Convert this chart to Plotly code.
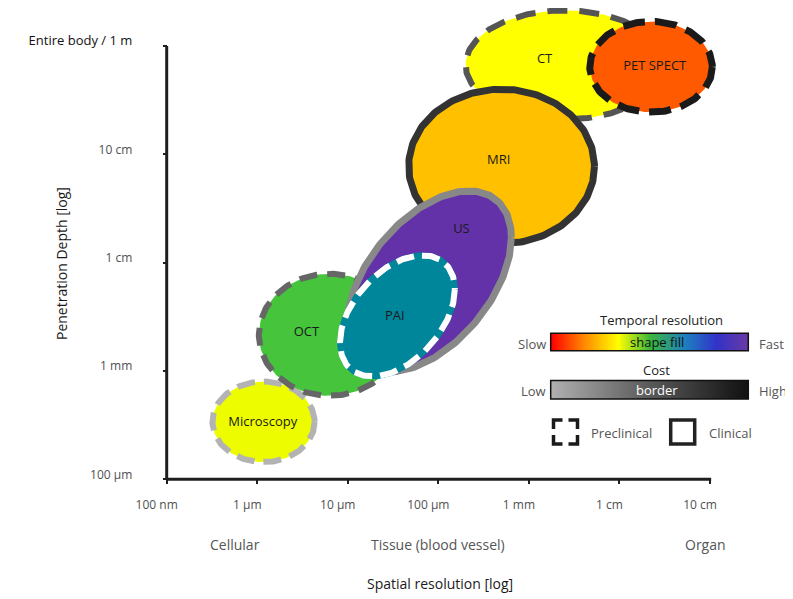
import math
import numpy as np
import plotly.graph_objects as go

# ---------------- data ----------------
x_tick_vals = [1e-7, 1e-6, 1e-5, 1e-4, 1e-3, 1e-2, 1e-1]
x_tick_text = ["100 nm", "1 µm", "10 µm", "100 µm", "1 mm", "1 cm", "10 cm"]
y_tick_vals = [1e-4, 1e-3, 1e-2, 1e-1, 1.0]
y_tick_text = ["100 µm", "1 mm", "1 cm", "10 cm", "Entire body / 1 m"]

scale_names = ["Cellular", "Tissue (blood vessel)", "Organ"]
scale_x = [5.75e-7, 9.8e-5, 8.9e-2]

modalities = ["CT", "PET SPECT", "MRI", "Microscopy", "OCT", "US", "PAI"]
res_min = [2.0e-4, 4.7e-3, 4.7e-5, 3.2e-7, 1.04e-6, 9.8e-6, 8.2e-6]      # spatial resolution range [m]
res_max = [3.1e-2, 1.06e-1, 5.3e-3, 4.3e-6, 3.8e-5, 6.4e-4, 1.52e-4]
depth_min = [0.21, 0.245, 0.015, 1.44e-4, 5.9e-4, 9.8e-4, 8.9e-4]       # penetration depth range [m]
depth_max = [2.14, 1.69, 0.40, 8.0e-4, 7.9e-3, 0.046, 0.0117]
tilt_deg = [90, 90, 90, 90, 90, 61, 64]                                  # 90 = no correlation
label_x = [1.49e-3, 0.0245, 4.65e-4, 1.15e-6, 3.49e-6, 1.80e-4, 3.3e-5]
label_y = [0.748, 0.641, 0.0869, 3.31e-4, 2.26e-3, 0.0202, 3.15e-3]
clinical = [False, False, True, False, False, True, False]

# ---------------- styles ----------------
fill_col = {"CT": "#ffff00", "PET SPECT": "#ff5a00", "MRI": "#ffc000", "Microscopy": "#eefc00",
            "OCT": "#45c43c", "US": "#6331a8", "PAI": "#00869a"}
border_col = {"CT": "#555555", "PET SPECT": "#1a1a1a", "MRI": "#333333", "Microscopy": "#b3b3b3",
              "OCT": "#666666", "US": "#888888", "PAI": "#ffffff"}
border_w = {"CT": 6, "PET SPECT": 7, "MRI": 7, "Microscopy": 6, "OCT": 6, "US": 7, "PAI": 6}
dash_pat = {"CT": "20px,12px", "PET SPECT": "22px,10px", "Microscopy": "18px,9px",
            "OCT": "18px,10px", "PAI": "18px,8px"}

FONT = "Open Sans"
OFF = 8                       # page body margin offset of the figure
W, H = 793 - OFF, 599 - OFF
PL, PT, PR, PB = 157, 8, 793, 489   # plot area in page pixels
X0PX, XDEC = 166.7, 90.55   # page pixel of 100 nm, pixels per decade
Y0PX, YDEC = 479.3, 108.3   # page pixel of 100 µm, pixels per decade


def px(xp):
    return (xp - PL) / (PR - PL)


def py(yp):
    return (PB - yp) / (PB - PT)


fig = go.Figure()

t = np.linspace(0, 2 * np.pi, 241)
for i, name in enumerate(modalities):
    lx0, lx1 = math.log10(res_min[i]), math.log10(res_max[i])
    ly0, ly1 = math.log10(depth_min[i]), math.log10(depth_max[i])
    cx, cy = (lx0 + lx1) / 2, (ly0 + ly1) / 2
    a, b = (lx1 - lx0) / 2, (ly1 - ly0) / 2
    d = math.radians(tilt_deg[i])
    ex = 10 ** (cx + a * np.cos(t))
    ey = 10 ** (cy + b * np.cos(t + d))
    if clinical[i]:
        fig.add_trace(go.Scatter(x=ex, y=ey, mode="lines", fill="toself", fillcolor=fill_col[name],
                                 line=dict(color=border_col[name], width=border_w[name]),
                                 hoverinfo="skip", showlegend=False))
    else:
        under = fill_col[name] if name == "PAI" else "rgba(0,0,0,0)"
        fig.add_trace(go.Scatter(x=ex, y=ey, mode="lines", fill="toself", fillcolor=fill_col[name],
                                 line=dict(color=under, width=border_w[name]),
                                 hoverinfo="skip", showlegend=False))
        fig.add_trace(go.Scatter(x=ex, y=ey, mode="lines",
                                 line=dict(color=border_col[name], width=border_w[name], dash=dash_pat[name]),
                                 hoverinfo="skip", showlegend=False))

fig.add_trace(go.Scatter(x=label_x, y=label_y, mode="text", text=modalities,
                         textfont=dict(family=FONT, size=13, color="#1a1a1a"),
                         hoverinfo="skip", showlegend=False, cliponaxis=False))

# axis lines (spanning the tick range only)
fig.add_trace(go.Scatter(x=[x_tick_vals[0], x_tick_vals[-1] * 1.03], y=[y_tick_vals[0]] * 2, mode="lines",
                         line=dict(color="#1e1e1e", width=3), hoverinfo="skip", showlegend=False))
fig.add_trace(go.Scatter(x=[x_tick_vals[0]] * 2, y=[y_tick_vals[0], y_tick_vals[-1]], mode="lines",
                         line=dict(color="#1e1e1e", width=3), hoverinfo="skip", showlegend=False))

# legend gradient bars
grad = [list(np.linspace(0, 1, 300))]
temporal_scale = [[0, "#ff0000"], [0.17, "#ff8c00"], [0.34, "#ffff00"], [0.5, "#3cb83c"],
                  [0.68, "#1e7fc0"], [0.84, "#3232c8"], [1, "#6b3aa5"]]
cost_scale = [[0, "#b0b0b0"], [0.5, "#5a5a5a"], [1, "#111111"]]
fig.add_trace(go.Heatmap(z=grad, colorscale=temporal_scale, showscale=False, xaxis="x2", yaxis="y2",
                         hoverinfo="skip", zsmooth="best"))
fig.add_trace(go.Heatmap(z=grad, colorscale=cost_scale, showscale=False, xaxis="x3", yaxis="y3",
                         hoverinfo="skip", zsmooth="best"))

bx0, bx1 = 550.7, 748.3
bar1 = (333.3, 350.7)
bar2 = (380.5, 399.0)
hidden = dict(visible=False, fixedrange=True)
fig.update_layout(
    xaxis2=dict(domain=[px(bx0), px(bx1)], anchor="y2", **hidden),
    yaxis2=dict(domain=[py(bar1[1]), py(bar1[0])], anchor="x2", **hidden),
    xaxis3=dict(domain=[px(bx0), px(bx1)], anchor="y3", **hidden),
    yaxis3=dict(domain=[py(bar2[1]), py(bar2[0])], anchor="x3", **hidden),
)

shapes = []
for (y0, y1) in (bar1, bar2):
    shapes.append(dict(type="rect", xref="paper", yref="paper", x0=px(bx0), x1=px(bx1),
                       y0=py(y1), y1=py(y0), line=dict(color="#111111", width=1.5)))

# preclinical (dashed) and clinical (solid) squares
sx0, sx1, sy0, sy1 = 553.5, 577.5, 420.0, 444.0
ym = (sy0 + sy1) / 2
pts = [(sx0, ym - 3), (sx0, sy0), (sx1, sy0), (sx1, sy1), (sx0, sy1), (sx0, ym - 3)]
path = "M " + " L ".join(f"{px(a):.5f},{py(b):.5f}" for a, b in pts)
shapes.append(dict(type="path", xref="paper", yref="paper", path=path,
                   line=dict(color="#1a1a1a", width=3.5, dash="18px,6px")))
shapes.append(dict(type="rect", xref="paper", yref="paper", x0=px(670.7), x1=px(694.7),
                   y0=py(444.0), y1=py(420.0), line=dict(color="#222222", width=3.5)))

ann = []


def text(s, xp, yp, xanchor="center", size=13, color="#555555", angle=0):
    ann.append(dict(text=s, xref="paper", yref="paper", x=px(xp), y=py(yp), xanchor=xanchor,
                    yanchor="middle", showarrow=False, textangle=angle,
                    font=dict(family=FONT, size=size, color=color)))


text("Temporal resolution", 661.5, 320, color="#222222")
text("Slow", 547.5, 343.5, xanchor="right")
text("Fast", 757, 343.5, xanchor="left")
text("shape fill", 656.5, 342, color="#111111")
text("Cost", 656.5, 369.5, color="#222222")
text("border", 656.5, 389.5, color="#ffffff")
text("Low", 547.5, 390.5, xanchor="right")
text("High", 757, 390.5, xanchor="left")
text("Preclinical", 589, 433, xanchor="left")
text("Clinical", 707, 433, xanchor="left")
text("Penetration Depth [log]", 61, 264, size=14, color="#1a1a1a", angle=-90)
text("Spatial resolution [log]", 440, 583, size=14, color="#1a1a1a")

for name, sx in zip(scale_names, scale_x):
    ann.append(dict(text=name, xref="x", yref="paper", x=math.log10(sx), y=py(544.5),
                    xanchor="center", yanchor="middle", showarrow=False,
                    font=dict(family=FONT, size=14, color="#555555")))

y_tt = y_tick_text[:-1] + [f'<span style="color:#111111;font-size:13px">{y_tick_text[-1]}</span>']

fig.update_layout(
    width=W, height=H, margin=dict(l=PL - OFF, r=793 - PR, t=PT - OFF, b=599 - PB),
    paper_bgcolor="white", plot_bgcolor="white",
    font=dict(family=FONT, size=12, color="#505050"),
    showlegend=False,
    xaxis=dict(type="log", range=[-7 + (PL - X0PX) / XDEC, -7 + (PR - X0PX) / XDEC],
               tickvals=x_tick_vals, ticktext=x_tick_text, showgrid=False, zeroline=False,
               showline=False, ticks="outside", ticklen=4, tickwidth=2, tickcolor="#1e1e1e",
               anchor="free", position=py(Y0PX), ticklabelshift=-10, ticklabelstandoff=10,
               fixedrange=True),
    yaxis=dict(type="log", range=[-4 - (PB - Y0PX) / YDEC, -4 + (Y0PX - PT) / YDEC],
               tickvals=y_tick_vals, ticktext=y_tt, showgrid=False, zeroline=False,
               showline=False, ticks="outside", ticklen=4, tickwidth=2, tickcolor="#1e1e1e",
               anchor="free", position=px(X0PX), ticklabelshift=-5, ticklabelstandoff=28,
               fixedrange=True),
    shapes=shapes, annotations=ann,
)

fig.write_html("out.html")
